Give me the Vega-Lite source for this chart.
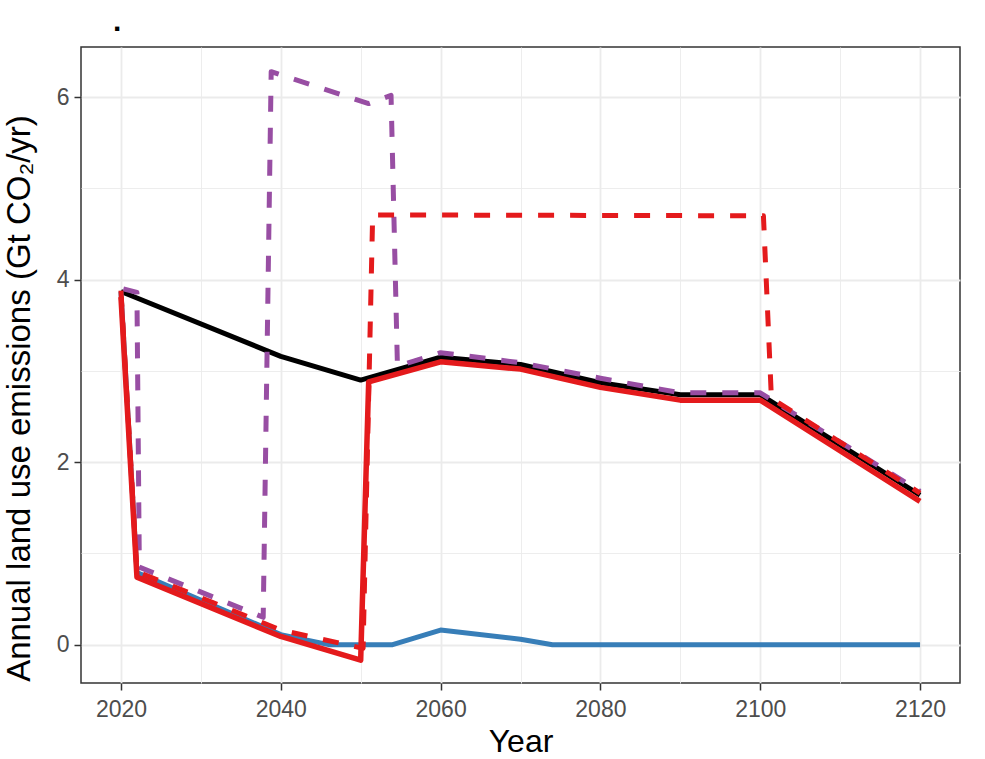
{
  "$schema": "https://vega.github.io/schema/vega-lite/v6.json",
  "description": "Annual land use emissions under five scenarios, 2020-2120.",
  "autosize": "none",
  "width": 879,
  "height": 636,
  "padding": {"left": 81, "top": 47, "right": 25, "bottom": 76},
  "background": "white",
  "title": {
    "text": ".",
    "anchor": "start",
    "frame": "group",
    "dx": 32,
    "offset": 10,
    "fontSize": 30,
    "fontWeight": "bold",
    "font": "Liberation Sans",
    "color": "black"
  },
  "data": {
    "values": [
      {"scenario": "reference", "year": 2020, "emissions": 3.87},
      {"scenario": "reference", "year": 2040, "emissions": 3.16},
      {"scenario": "reference", "year": 2050, "emissions": 2.9},
      {"scenario": "reference", "year": 2060, "emissions": 3.15},
      {"scenario": "reference", "year": 2070, "emissions": 3.07},
      {"scenario": "reference", "year": 2080, "emissions": 2.87},
      {"scenario": "reference", "year": 2090, "emissions": 2.74},
      {"scenario": "reference", "year": 2100, "emissions": 2.74},
      {"scenario": "reference", "year": 2120, "emissions": 1.64},

      {"scenario": "zero", "year": 2020, "emissions": 3.87},
      {"scenario": "zero", "year": 2022, "emissions": 0.79},
      {"scenario": "zero", "year": 2040, "emissions": 0.11},
      {"scenario": "zero", "year": 2046, "emissions": 0},
      {"scenario": "zero", "year": 2054, "emissions": 0},
      {"scenario": "zero", "year": 2060, "emissions": 0.16},
      {"scenario": "zero", "year": 2070, "emissions": 0.06},
      {"scenario": "zero", "year": 2074, "emissions": 0},
      {"scenario": "zero", "year": 2120, "emissions": 0},

      {"scenario": "pulse_2038", "year": 2020.3, "emissions": 3.9},
      {"scenario": "pulse_2038", "year": 2022, "emissions": 3.86},
      {"scenario": "pulse_2038", "year": 2022.3, "emissions": 0.85},
      {"scenario": "pulse_2038", "year": 2037.8, "emissions": 0.3},
      {"scenario": "pulse_2038", "year": 2038.8, "emissions": 6.28},
      {"scenario": "pulse_2038", "year": 2051, "emissions": 5.93},
      {"scenario": "pulse_2038", "year": 2053.8, "emissions": 6.02},
      {"scenario": "pulse_2038", "year": 2054.6, "emissions": 3.05},
      {"scenario": "pulse_2038", "year": 2060, "emissions": 3.2},
      {"scenario": "pulse_2038", "year": 2070, "emissions": 3.09},
      {"scenario": "pulse_2038", "year": 2080, "emissions": 2.92},
      {"scenario": "pulse_2038", "year": 2090, "emissions": 2.76},
      {"scenario": "pulse_2038", "year": 2100, "emissions": 2.76},
      {"scenario": "pulse_2038", "year": 2120, "emissions": 1.68},

      {"scenario": "plateau_2050", "year": 2020, "emissions": 3.88},
      {"scenario": "plateau_2050", "year": 2022, "emissions": 0.8},
      {"scenario": "plateau_2050", "year": 2040, "emissions": 0.16},
      {"scenario": "plateau_2050", "year": 2050.3, "emissions": -0.04},
      {"scenario": "plateau_2050", "year": 2051.5, "emissions": 4.71},
      {"scenario": "plateau_2050", "year": 2100.4, "emissions": 4.7},
      {"scenario": "plateau_2050", "year": 2101.4, "emissions": 2.7},
      {"scenario": "plateau_2050", "year": 2120, "emissions": 1.66},

      {"scenario": "return_2050", "year": 2020, "emissions": 3.81},
      {"scenario": "return_2050", "year": 2022, "emissions": 0.74},
      {"scenario": "return_2050", "year": 2040, "emissions": 0.09},
      {"scenario": "return_2050", "year": 2050, "emissions": -0.17},
      {"scenario": "return_2050", "year": 2051, "emissions": 2.88},
      {"scenario": "return_2050", "year": 2060, "emissions": 3.1},
      {"scenario": "return_2050", "year": 2070, "emissions": 3.02},
      {"scenario": "return_2050", "year": 2080, "emissions": 2.82},
      {"scenario": "return_2050", "year": 2090, "emissions": 2.68},
      {"scenario": "return_2050", "year": 2100, "emissions": 2.68},
      {"scenario": "return_2050", "year": 2120, "emissions": 1.57}
    ]
  },
  "encoding": {
    "x": {
      "field": "year",
      "type": "quantitative",
      "title": "Year",
      "scale": {"domain": [2015, 2125], "nice": false, "zero": false},
      "axis": {
        "values": [2020, 2030, 2040, 2050, 2060, 2070, 2080, 2090, 2100, 2110, 2120],
        "labelExpr": "datum.value % 20 === 0 ? datum.label : ''",
        "format": "d",
        "labelPadding": 8,
        "tickOpacity": {"condition": {"test": "datum.value % 20 === 0", "value": 1}, "value": 0},
        "gridWidth": {"condition": {"test": "datum.value % 20 === 0", "value": 1.8}, "value": 0.9},
        "titlePadding": 5
      }
    },
    "y": {
      "field": "emissions",
      "type": "quantitative",
      "title": "Annual land use emissions (Gt CO₂/yr)",
      "scale": {"domain": [-0.42, 6.55], "nice": false, "zero": false},
      "axis": {
        "values": [0, 1, 2, 3, 4, 5, 6],
        "labelExpr": "datum.value % 2 === 0 ? datum.label : ''",
        "tickOpacity": {"condition": {"test": "datum.value % 2 === 0", "value": 1}, "value": 0},
        "gridWidth": {"condition": {"test": "datum.value % 2 === 0", "value": 1.8}, "value": 0.9},
        "titleFontSize": 33,
        "titleY": 351,
        "titlePadding": 20
      }
    }
  },
  "layer": [
    {
      "transform": [{"filter": "datum.scenario === 'reference'"}],
      "mark": {"type": "line", "color": "#000000", "strokeWidth": 5, "strokeJoin": "round", "strokeCap": "butt"}
    },
    {
      "transform": [{"filter": "datum.scenario === 'zero'"}],
      "mark": {"type": "line", "color": "#377EB8", "strokeWidth": 5, "strokeJoin": "round", "strokeCap": "butt"}
    },
    {
      "transform": [{"filter": "datum.scenario === 'pulse_2038'"}],
      "mark": {"type": "line", "color": "#984EA3", "strokeWidth": 5, "strokeDash": [16, 16], "strokeJoin": "round", "strokeCap": "butt"}
    },
    {
      "transform": [{"filter": "datum.scenario === 'plateau_2050'"}],
      "mark": {"type": "line", "color": "#E41A1C", "strokeWidth": 5, "strokeDash": [16, 16], "strokeJoin": "round", "strokeCap": "butt"}
    },
    {
      "transform": [{"filter": "datum.scenario === 'return_2050'"}],
      "mark": {"type": "line", "color": "#E41A1C", "strokeWidth": 5.5, "strokeJoin": "round", "strokeCap": "butt"}
    }
  ],
  "config": {
    "font": "Liberation Sans",
    "view": {"stroke": "#333333", "strokeWidth": 1.5},
    "axis": {
      "domain": false,
      "grid": true,
      "gridColor": "#EBEBEB",
      "tickColor": "#333333",
      "tickWidth": 1.5,
      "tickSize": 7,
      "labelFont": "Liberation Sans",
      "labelFontSize": 23,
      "labelColor": "#4D4D4D",
      "labelPadding": 5,
      "titleFont": "Liberation Sans",
      "titleFontSize": 32,
      "titleFontWeight": "normal",
      "titleColor": "#000000"
    }
  }
}
